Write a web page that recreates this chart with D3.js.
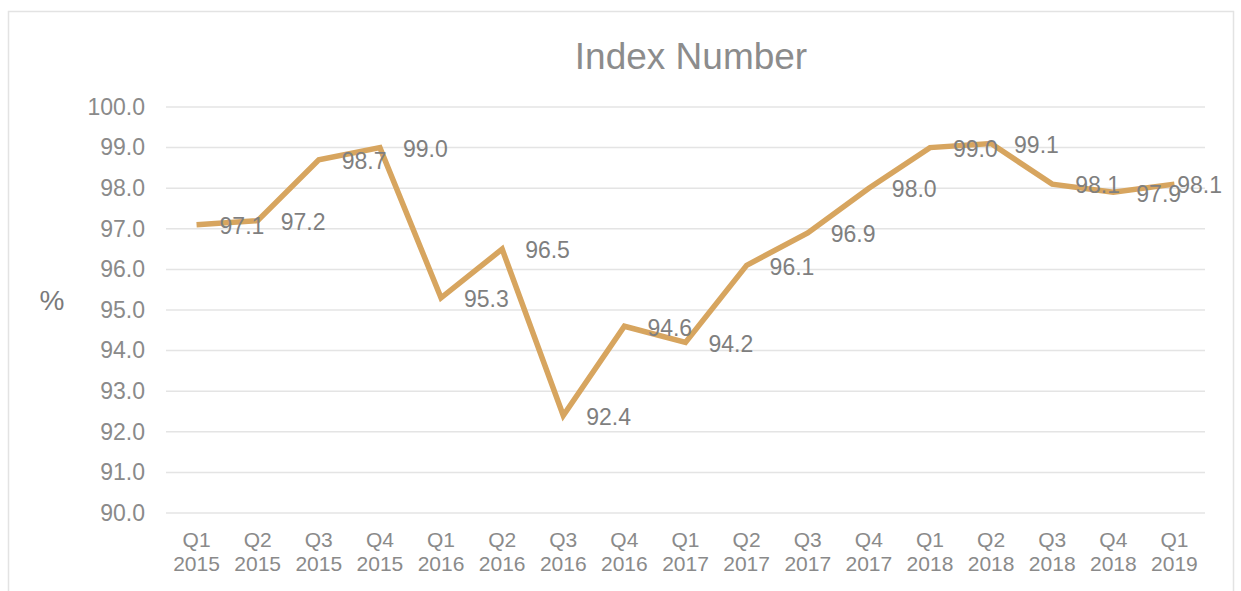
<!DOCTYPE html>
<html>
<head>
<meta charset="utf-8">
<script src="https://cdn.jsdelivr.net/npm/d3@7"></script>
<style>
  body { margin: 0; background: #fff; }
  text { font-family: "Liberation Sans", Arial, sans-serif; }
</style>
</head>
<body>
<svg id="chart"></svg>
<script>
var quarters = ["Q1","Q2","Q3","Q4","Q1","Q2","Q3","Q4","Q1","Q2","Q3","Q4","Q1","Q2","Q3","Q4","Q1"];
var years = ["2015","2015","2015","2015","2016","2016","2016","2016","2017","2017","2017","2017","2018","2018","2018","2018","2019"];
var values = [97.1, 97.2, 98.7, 99.0, 95.3, 96.5, 92.4, 94.6, 94.2, 96.1, 96.9, 98.0, 99.0, 99.1, 98.1, 97.9, 98.1];
var yTicks = [90, 91, 92, 93, 94, 95, 96, 97, 98, 99, 100];

var W = 1241, H = 591;
var plot = {left: 166, right: 1205, top: 107, bottom: 513};

var svg = d3.select("#chart")
    .attr("width", W)
    .attr("height", H);

// outer chart border
svg.append("rect")
    .attr("x", 8.5).attr("y", 11.5)
    .attr("width", 1225).attr("height", 600)
    .attr("fill", "none")
    .attr("stroke", "#e3e3e3")
    .attr("stroke-width", 1.5);

var cats = values.map((d, i) => i);

var x = d3.scaleBand()
    .domain(cats)
    .range([plot.left, plot.right]);

var y = d3.scaleLinear()
    .domain([90, 100])
    .range([plot.bottom, plot.top]);

// gridlines
svg.append("g")
    .selectAll("line")
    .data(yTicks)
    .join("line")
    .attr("x1", plot.left).attr("x2", plot.right)
    .attr("y1", d => y(d)).attr("y2", d => y(d))
    .attr("stroke", "#e4e4e4")
    .attr("stroke-width", 1.5);

// y axis labels
var yAxis = svg.append("g")
    .attr("transform", `translate(${plot.left},0)`)
    .call(d3.axisLeft(y).tickValues(yTicks).tickFormat(d3.format(".1f")).tickSize(0).tickPadding(21));
yAxis.select(".domain").remove();
yAxis.selectAll("text")
    .attr("font-size", 23)
    .attr("fill", "#8a8a8a")
    .attr("font-family", "Liberation Sans, Arial, sans-serif");

// x axis labels (two lines)
var xl = svg.append("g")
    .selectAll("text")
    .data(cats)
    .join("text")
    .attr("x", d => x(d) + x.bandwidth() / 2)
    .attr("text-anchor", "middle")
    .attr("font-size", 21)
    .attr("fill", "#8a8a8a");
xl.append("tspan")
    .attr("x", d => x(d) + x.bandwidth() / 2)
    .attr("y", 547)
    .text(d => quarters[d]);
xl.append("tspan")
    .attr("x", d => x(d) + x.bandwidth() / 2)
    .attr("y", 571)
    .text(d => years[d]);

// title
svg.append("text")
    .attr("x", 691)
    .attr("y", 69)
    .attr("text-anchor", "middle")
    .attr("font-size", 37)
    .attr("fill", "#8c8c8c")
    .text("Index Number");

// y axis title
svg.append("text")
    .attr("x", 52)
    .attr("y", 310)
    .attr("text-anchor", "middle")
    .attr("font-size", 28)
    .attr("fill", "#7a7a7a")
    .text("%");

// line
var line = d3.line()
    .x((d, i) => x(i) + x.bandwidth() / 2)
    .y(d => y(d));

svg.append("path")
    .datum(values)
    .attr("fill", "none")
    .attr("stroke", "#d7a55f")
    .attr("stroke-width", 5.5)
    .attr("stroke-linejoin", "miter")
    .attr("d", line);

// data labels, right of each point
var labelRight = 1222;
svg.append("g")
    .selectAll("text")
    .data(values)
    .join("text")
    .attr("font-size", 23)
    .attr("fill", "#7f7f7f")
    .attr("dy", "0.36em")
    .attr("y", d => y(d) + 1)
    .text(d => d.toFixed(1))
    .each(function(d, i) {
        var t = d3.select(this);
        var px = x(i) + x.bandwidth() / 2 + 23;
        var w = this.getComputedTextLength();
        if (px + w > labelRight) px = labelRight - w;
        t.attr("x", px);
    });
</script>
</body>
</html>
